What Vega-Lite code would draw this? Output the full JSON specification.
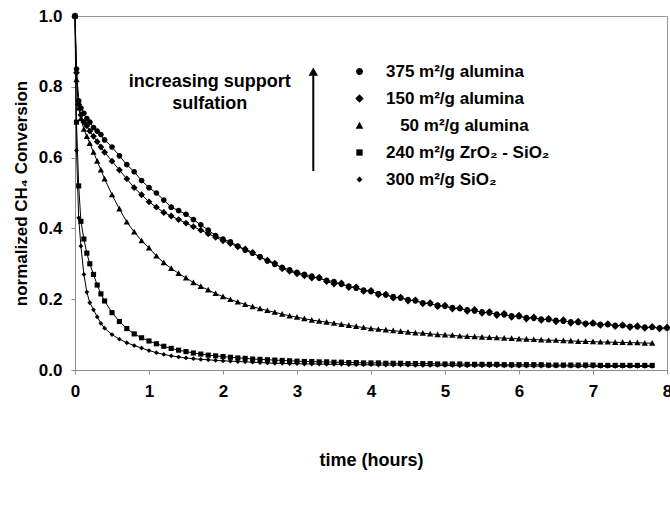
{
  "$schema": "https://vega.github.io/schema/vega-lite/v6.json",
  "width": 592,
  "height": 354,
  "autosize": {"type": "none"},
  "padding": {"left": 75, "top": 16, "right": 3, "bottom": 138},
  "background": "white",
  "config": {
    "font": "Liberation Sans",
    "view": {"stroke": "#9a9a9a", "strokeWidth": 1},
    "axis": {
      "grid": false,
      "domainColor": "#8c8c8c",
      "tickColor": "#8c8c8c",
      "labelFont": "Liberation Sans",
      "labelFontWeight": "bold",
      "labelFontSize": 17,
      "labelColor": "black",
      "titleFont": "Liberation Sans",
      "titleFontWeight": "bold",
      "titleFontSize": 18,
      "titleColor": "black"
    }
  },
  "datasets": {
    "conversion": [
      {"t": 0, "a375": 1.0, "a150": 1.0, "a50": 1.0, "zs240": 1.0, "s300": 1.0},
      {"t": 0.02, "a375": 0.85, "a150": 0.84, "a50": 0.82, "zs240": 0.70, "s300": 0.62},
      {"t": 0.05, "a375": 0.76, "a150": 0.75, "a50": 0.74, "zs240": 0.52, "s300": 0.43},
      {"t": 0.08, "a375": 0.74, "a150": 0.72, "a50": 0.71, "zs240": 0.42, "s300": 0.35},
      {"t": 0.12, "a375": 0.725, "a150": 0.70, "a50": 0.68, "zs240": 0.37, "s300": 0.27},
      {"t": 0.16, "a375": 0.71, "a150": 0.69, "a50": 0.66, "zs240": 0.33, "s300": 0.22},
      {"t": 0.2, "a375": 0.70, "a150": 0.675, "a50": 0.64, "zs240": 0.30, "s300": 0.19},
      {"t": 0.25, "a375": 0.685, "a150": 0.66, "a50": 0.615, "zs240": 0.27, "s300": 0.17},
      {"t": 0.3, "a375": 0.675, "a150": 0.645, "a50": 0.59, "zs240": 0.24, "s300": 0.15},
      {"t": 0.35, "a375": 0.665, "a150": 0.63, "a50": 0.565, "zs240": 0.215, "s300": 0.132},
      {"t": 0.4, "a375": 0.65, "a150": 0.615, "a50": 0.54, "zs240": 0.195, "s300": 0.118},
      {"t": 0.5, "a375": 0.63, "a150": 0.59, "a50": 0.495, "zs240": 0.162, "s300": 0.10},
      {"t": 0.6, "a375": 0.605, "a150": 0.565, "a50": 0.455, "zs240": 0.137, "s300": 0.087},
      {"t": 0.7, "a375": 0.58, "a150": 0.54, "a50": 0.418, "zs240": 0.117, "s300": 0.077},
      {"t": 0.8, "a375": 0.56, "a150": 0.515, "a50": 0.39, "zs240": 0.102, "s300": 0.069},
      {"t": 0.9, "a375": 0.535, "a150": 0.495, "a50": 0.365, "zs240": 0.091, "s300": 0.062},
      {"t": 1.0, "a375": 0.515, "a150": 0.475, "a50": 0.345, "zs240": 0.082, "s300": 0.055},
      {"t": 1.1, "a375": 0.50, "a150": 0.46, "a50": 0.322, "zs240": 0.074, "s300": 0.049},
      {"t": 1.2, "a375": 0.48, "a150": 0.445, "a50": 0.303, "zs240": 0.067, "s300": 0.044},
      {"t": 1.3, "a375": 0.46, "a150": 0.435, "a50": 0.287, "zs240": 0.061, "s300": 0.040},
      {"t": 1.4, "a375": 0.45, "a150": 0.425, "a50": 0.273, "zs240": 0.056, "s300": 0.037},
      {"t": 1.5, "a375": 0.44, "a150": 0.415, "a50": 0.26, "zs240": 0.052, "s300": 0.034},
      {"t": 1.6, "a375": 0.425, "a150": 0.405, "a50": 0.247, "zs240": 0.048, "s300": 0.032},
      {"t": 1.7, "a375": 0.41, "a150": 0.395, "a50": 0.236, "zs240": 0.045, "s300": 0.030},
      {"t": 1.8, "a375": 0.395, "a150": 0.385, "a50": 0.226, "zs240": 0.042, "s300": 0.029},
      {"t": 1.9, "a375": 0.38, "a150": 0.375, "a50": 0.216, "zs240": 0.040, "s300": 0.027},
      {"t": 2.0, "a375": 0.37, "a150": 0.365, "a50": 0.207, "zs240": 0.038, "s300": 0.026},
      {"t": 2.1, "a375": 0.362, "a150": 0.357, "a50": 0.199, "zs240": 0.036, "s300": 0.025},
      {"t": 2.2, "a375": 0.35, "a150": 0.348, "a50": 0.192, "zs240": 0.034, "s300": 0.024},
      {"t": 2.3, "a375": 0.338, "a150": 0.342, "a50": 0.185, "zs240": 0.033, "s300": 0.023},
      {"t": 2.4, "a375": 0.33, "a150": 0.332, "a50": 0.179, "zs240": 0.031, "s300": 0.022},
      {"t": 2.5, "a375": 0.32, "a150": 0.318, "a50": 0.173, "zs240": 0.030, "s300": 0.021},
      {"t": 2.6, "a375": 0.308, "a150": 0.31, "a50": 0.168, "zs240": 0.029, "s300": 0.020},
      {"t": 2.7, "a375": 0.298, "a150": 0.302, "a50": 0.163, "zs240": 0.028, "s300": 0.019},
      {"t": 2.8, "a375": 0.29, "a150": 0.286, "a50": 0.158, "zs240": 0.027, "s300": 0.019},
      {"t": 2.9, "a375": 0.283, "a150": 0.279, "a50": 0.153, "zs240": 0.026, "s300": 0.018},
      {"t": 3.0, "a375": 0.276, "a150": 0.272, "a50": 0.149, "zs240": 0.025, "s300": 0.018},
      {"t": 3.1, "a375": 0.27, "a150": 0.266, "a50": 0.145, "zs240": 0.024, "s300": 0.017},
      {"t": 3.2, "a375": 0.265, "a150": 0.26, "a50": 0.141, "zs240": 0.024, "s300": 0.017},
      {"t": 3.3, "a375": 0.259, "a150": 0.262, "a50": 0.138, "zs240": 0.023, "s300": 0.017},
      {"t": 3.4, "a375": 0.253, "a150": 0.25, "a50": 0.135, "zs240": 0.023, "s300": 0.016},
      {"t": 3.5, "a375": 0.25, "a150": 0.243, "a50": 0.132, "zs240": 0.022, "s300": 0.016},
      {"t": 3.6, "a375": 0.242, "a150": 0.246, "a50": 0.129, "zs240": 0.022, "s300": 0.016},
      {"t": 3.7, "a375": 0.237, "a150": 0.233, "a50": 0.126, "zs240": 0.021, "s300": 0.015},
      {"t": 3.8, "a375": 0.231, "a150": 0.235, "a50": 0.123, "zs240": 0.021, "s300": 0.015},
      {"t": 3.9, "a375": 0.226, "a150": 0.222, "a50": 0.12, "zs240": 0.020, "s300": 0.015},
      {"t": 4.0, "a375": 0.221, "a150": 0.225, "a50": 0.117, "zs240": 0.020, "s300": 0.015},
      {"t": 4.1, "a375": 0.216, "a150": 0.212, "a50": 0.115, "zs240": 0.020, "s300": 0.014},
      {"t": 4.2, "a375": 0.212, "a150": 0.214, "a50": 0.113, "zs240": 0.019, "s300": 0.014},
      {"t": 4.3, "a375": 0.207, "a150": 0.203, "a50": 0.111, "zs240": 0.019, "s300": 0.014},
      {"t": 4.4, "a375": 0.203, "a150": 0.206, "a50": 0.109, "zs240": 0.019, "s300": 0.014},
      {"t": 4.5, "a375": 0.199, "a150": 0.195, "a50": 0.107, "zs240": 0.018, "s300": 0.014},
      {"t": 4.6, "a375": 0.195, "a150": 0.198, "a50": 0.105, "zs240": 0.018, "s300": 0.013},
      {"t": 4.7, "a375": 0.19, "a150": 0.187, "a50": 0.104, "zs240": 0.018, "s300": 0.013},
      {"t": 4.8, "a375": 0.187, "a150": 0.19, "a50": 0.102, "zs240": 0.018, "s300": 0.013},
      {"t": 4.9, "a375": 0.183, "a150": 0.179, "a50": 0.1, "zs240": 0.017, "s300": 0.013},
      {"t": 5.0, "a375": 0.18, "a150": 0.183, "a50": 0.099, "zs240": 0.017, "s300": 0.013},
      {"t": 5.1, "a375": 0.176, "a150": 0.172, "a50": 0.098, "zs240": 0.017, "s300": 0.013},
      {"t": 5.2, "a375": 0.173, "a150": 0.176, "a50": 0.096, "zs240": 0.017, "s300": 0.012},
      {"t": 5.3, "a375": 0.17, "a150": 0.166, "a50": 0.095, "zs240": 0.016, "s300": 0.012},
      {"t": 5.4, "a375": 0.167, "a150": 0.171, "a50": 0.094, "zs240": 0.016, "s300": 0.012},
      {"t": 5.5, "a375": 0.164, "a150": 0.16, "a50": 0.093, "zs240": 0.016, "s300": 0.012},
      {"t": 5.6, "a375": 0.161, "a150": 0.165, "a50": 0.092, "zs240": 0.016, "s300": 0.012},
      {"t": 5.7, "a375": 0.158, "a150": 0.154, "a50": 0.091, "zs240": 0.016, "s300": 0.012},
      {"t": 5.8, "a375": 0.156, "a150": 0.16, "a50": 0.09, "zs240": 0.015, "s300": 0.012},
      {"t": 5.9, "a375": 0.153, "a150": 0.149, "a50": 0.089, "zs240": 0.015, "s300": 0.011},
      {"t": 6.0, "a375": 0.151, "a150": 0.155, "a50": 0.088, "zs240": 0.015, "s300": 0.011},
      {"t": 6.1, "a375": 0.148, "a150": 0.144, "a50": 0.087, "zs240": 0.015, "s300": 0.011},
      {"t": 6.2, "a375": 0.146, "a150": 0.15, "a50": 0.086, "zs240": 0.015, "s300": 0.011},
      {"t": 6.3, "a375": 0.144, "a150": 0.14, "a50": 0.085, "zs240": 0.015, "s300": 0.011},
      {"t": 6.4, "a375": 0.142, "a150": 0.146, "a50": 0.084, "zs240": 0.014, "s300": 0.011},
      {"t": 6.5, "a375": 0.14, "a150": 0.136, "a50": 0.084, "zs240": 0.014, "s300": 0.011},
      {"t": 6.6, "a375": 0.138, "a150": 0.142, "a50": 0.083, "zs240": 0.014, "s300": 0.011},
      {"t": 6.7, "a375": 0.136, "a150": 0.132, "a50": 0.082, "zs240": 0.014, "s300": 0.011},
      {"t": 6.8, "a375": 0.134, "a150": 0.138, "a50": 0.081, "zs240": 0.014, "s300": 0.010},
      {"t": 6.9, "a375": 0.132, "a150": 0.129, "a50": 0.081, "zs240": 0.014, "s300": 0.010},
      {"t": 7.0, "a375": 0.131, "a150": 0.134, "a50": 0.08, "zs240": 0.014, "s300": 0.010},
      {"t": 7.1, "a375": 0.129, "a150": 0.126, "a50": 0.079, "zs240": 0.013, "s300": 0.010},
      {"t": 7.2, "a375": 0.128, "a150": 0.131, "a50": 0.079, "zs240": 0.013, "s300": 0.010},
      {"t": 7.3, "a375": 0.126, "a150": 0.123, "a50": 0.078, "zs240": 0.013, "s300": 0.010},
      {"t": 7.4, "a375": 0.125, "a150": 0.128, "a50": 0.078, "zs240": 0.013, "s300": 0.010},
      {"t": 7.5, "a375": 0.123, "a150": 0.12, "a50": 0.077, "zs240": 0.013, "s300": 0.010},
      {"t": 7.6, "a375": 0.122, "a150": 0.125, "a50": 0.077, "zs240": 0.013, "s300": 0.010},
      {"t": 7.7, "a375": 0.121, "a150": 0.118, "a50": 0.076, "zs240": 0.013, "s300": 0.010},
      {"t": 7.8, "a375": 0.12, "a150": 0.123, "a50": 0.076, "zs240": 0.013, "s300": 0.010},
      {"t": 7.9, "a375": 0.119, "a150": 0.116, "a50": null, "zs240": null, "s300": null},
      {"t": 8.0, "a375": 0.118, "a150": 0.121, "a50": null, "zs240": null, "s300": null}
    ],
    "note": [
      {"t": 1.82, "v": 0.814, "label": "increasing support"},
      {"t": 1.82, "v": 0.752, "label": "sulfation"}
    ],
    "arrow": [
      {"t": 3.22, "v0": 0.562, "v1": 0.84, "tip": 0.843}
    ]
  },
  "layer": [
    {
      "data": {"name": "conversion"},
      "transform": [
        {"fold": ["a375", "a150", "a50", "zs240", "s300"], "as": ["support", "v"]},
        {"filter": {"field": "v", "valid": true}}
      ],
      "layer": [
        {
          "mark": {"type": "line", "color": "black", "strokeWidth": 1, "interpolate": "linear"},
          "encoding": {
            "x": {"field": "t", "type": "quantitative"},
            "y": {"field": "v", "type": "quantitative"},
            "detail": {"field": "support"}
          }
        },
        {
          "mark": {"type": "point", "filled": true, "color": "black", "opacity": 1, "size": 130},
          "encoding": {
            "x": {
              "field": "t",
              "type": "quantitative",
              "scale": {"domain": [0, 8], "nice": false},
              "axis": {
                "title": "time (hours)",
                "values": [0, 1, 2, 3, 4, 5, 6, 7, 8],
                "format": "d",
                "tickSize": 4,
                "labelPadding": 9,
                "titlePadding": 52,
                "labelFlush": false
              }
            },
            "y": {
              "field": "v",
              "type": "quantitative",
              "scale": {"domain": [0, 1], "nice": false},
              "axis": {
                "title": "normalized CH₄ Conversion",
                "titleFontSize": 17,
                "values": [0, 0.2, 0.4, 0.6, 0.8, 1.0],
                "format": ".1f",
                "tickSize": 4,
                "labelPadding": 9,
                "titlePadding": 8
              }
            },
            "shape": {
              "field": "support",
              "type": "nominal",
              "scale": {
                "domain": ["a375", "a150", "a50", "zs240", "s300"],
                "range": [
                  "M-0.5,0A0.5,0.5 0 1,0 0.5,0A0.5,0.5 0 1,0 -0.5,0Z",
                  "M0,-0.6L0.6,0L0,0.6L-0.6,0Z",
                  "M0,-0.55L0.55,0.45L-0.55,0.45Z",
                  "M-0.45,-0.45H0.45V0.45H-0.45Z",
                  "M0,-0.42L0.42,0L0,0.42L-0.42,0Z"
                ]
              },
              "legend": {
                "title": null,
                "orient": "none",
                "legendX": 276,
                "legendY": 47,
                "padding": 0,
                "symbolSize": 196,
                "symbolFillColor": "black",
                "symbolStrokeColor": "black",
                "labelOffset": 18,
                "rowPadding": 9,
                "labelLimit": 400,
                "labelFont": "Liberation Sans",
                "labelFontWeight": "bold",
                "labelFontSize": 17,
                "labelColor": "black",
                "labelExpr": "{'a375': '375 m²/g alumina', 'a150': '150 m²/g alumina', 'a50': '\u200b\u00a0\u00a0\u00a050 m²/g alumina', 'zs240': '240 m²/g ZrO₂ - SiO₂', 's300': '300 m²/g SiO₂'}[datum.value]"
              }
            }
          }
        }
      ]
    },
    {
      "data": {"name": "note"},
      "mark": {"type": "text", "font": "Liberation Sans", "fontWeight": "bold", "fontSize": 18, "color": "black", "align": "center", "baseline": "middle"},
      "encoding": {
        "x": {"field": "t", "type": "quantitative"},
        "y": {"field": "v", "type": "quantitative"},
        "text": {"field": "label"}
      }
    },
    {
      "data": {"name": "arrow"},
      "mark": {"type": "rule", "color": "black", "strokeWidth": 2},
      "encoding": {
        "x": {"field": "t", "type": "quantitative"},
        "y": {"field": "v0", "type": "quantitative"},
        "y2": {"field": "v1"}
      }
    },
    {
      "data": {"name": "arrow"},
      "mark": {"type": "point", "shape": "triangle-up", "filled": true, "color": "black", "size": 90, "opacity": 1},
      "encoding": {
        "x": {"field": "t", "type": "quantitative"},
        "y": {"field": "tip", "type": "quantitative"}
      }
    }
  ]
}
